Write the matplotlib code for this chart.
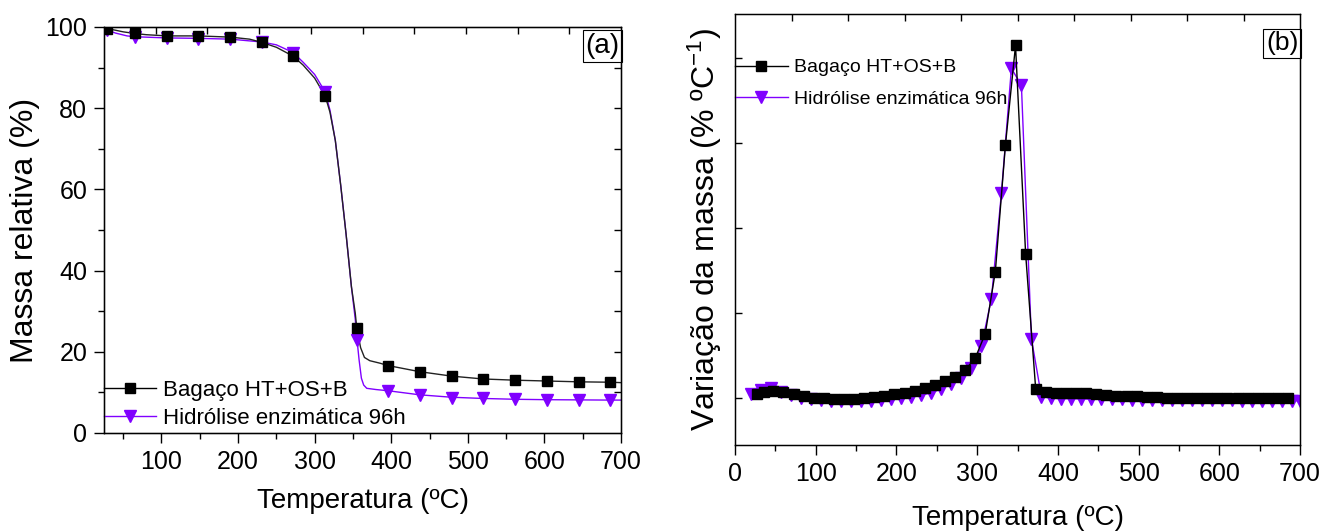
import numpy as np
import matplotlib
matplotlib.use("Agg")
import matplotlib.pyplot as plt
from matplotlib.ticker import MultipleLocator

plt.rcParams['font.family'] = ['Liberation Sans', 'DejaVu Sans']
plt.rcParams['mathtext.fontset'] = 'custom'
plt.rcParams['mathtext.rm'] = 'Liberation Sans'
plt.rcParams['mathtext.default'] = 'regular'

PURPLE = '#8000ff'
labels = ['Bagaço HT+OS+B', 'Hidrólise enzimática 96h']

# (a) TGA - markers
tga_marker_x = [28.5, 65.5, 107, 148, 189.5, 231, 272, 313.7, 354.8, 396, 437.5,
                479, 520, 562, 603, 645, 686]
tga_black_marks = [99.6, 98.4, 97.8, 97.8, 97.5, 96.2, 92.8, 83.0, 25.8, 16.6, 15.1,
                   14.0, 13.3, 13.0, 12.8, 12.6, 12.5]
tga_purple_marks = [99.3, 97.5, 97.2, 97.1, 97.0, 96.2, 93.7, 84.0, 22.9, 10.4, 9.3,
                    8.7, 8.5, 8.3, 8.2, 8.2, 8.1]

# (a) TGA - curves
tga_black_x = [25, 28.5, 40, 50, 65, 80, 107, 148, 190, 215, 231, 250, 272, 285, 300,
               313.7, 320, 327, 334, 341, 348, 353, 355, 360, 365, 372, 385, 396, 437,
               479, 520, 562, 603, 645, 686, 700]
tga_black_y = [100, 99.6, 99.2, 98.8, 98.4, 98.1, 97.8, 97.8, 97.5, 97.0, 96.2, 95.0,
               92.8, 90.6, 87.4, 83.0, 79, 72, 61, 49, 36, 29.5, 25.8, 21, 18.6, 17.8,
               17.2, 16.6, 15.1, 14.0, 13.3, 13.0, 12.8, 12.6, 12.5, 12.4]
tga_purple_x = [25, 28.5, 40, 55, 65, 107, 148, 190, 231, 250, 272, 285, 300, 313.7,
                320, 327, 334, 341, 348, 353, 355, 358, 361, 364, 368, 380, 396, 437,
                479, 520, 562, 603, 645, 686, 700]
tga_purple_y = [99.5, 99.3, 98.5, 97.8, 97.6, 97.3, 97.2, 97.0, 96.3, 95.6, 93.7, 91.3,
                88.3, 84.0, 79.5, 72, 61, 49, 36, 28, 23.5, 18, 13.5, 11.8, 11.0, 10.7,
                10.4, 9.4, 8.8, 8.5, 8.3, 8.2, 8.15, 8.1, 8.1]

# (b) DTG
dtg_black_x = [27, 36, 47.5, 60, 72.5, 85, 97.5, 110, 122.5, 135, 147.5, 160, 172.5,
               185, 197.5, 210, 222.5, 235, 247.5, 260, 272.5, 285, 297.5, 310, 322.5,
               335, 347.5, 360, 372.5, 385, 397.5, 410, 422.5, 435, 447.5, 460, 472.5,
               485, 497.5, 510, 522.5, 535, 547.5, 560, 572.5, 585, 597.5, 610, 622.5,
               635, 647.5, 660, 672.5, 685]
dtg_black_y = [0.044, 0.068, 0.082, 0.068, 0.044, 0.024, 0.008, 0.0, -0.004, -0.004,
               -0.004, 0.0, 0.015, 0.03, 0.045, 0.065, 0.09, 0.12, 0.155, 0.2, 0.255,
               0.33, 0.47, 0.76, 1.49, 2.98, 4.15, 1.70, 0.106, 0.074, 0.067, 0.067,
               0.062, 0.059, 0.047, 0.039, 0.032, 0.027, 0.024, 0.015, 0.012, 0.008,
               0.008, 0.004, 0.004, 0.0, 0.0, 0.0, 0.0, 0.0, 0.0, 0.0, 0.0, 0.0]
dtg_purple_x = [20, 32.4, 44.8, 57.2, 69.6, 82, 94.4, 106.8, 119.2, 131.6, 144, 156.4,
                168.8, 181.2, 193.6, 206, 218.4, 230.8, 243.2, 255.6, 268, 280.4, 292.8,
                305.2, 317.6, 330, 342.4, 354.8, 367.2, 379.6, 392, 404.4, 416.8, 429.2,
                441.6, 454, 466.4, 478.8, 491.2, 503.6, 516, 528.4, 540.8, 553.2, 565.6,
                578, 590.4, 602.8, 615.2, 627.6, 640, 652.4, 664.8, 677.2, 689.6, 700]
dtg_purple_y = [0.045, 0.10, 0.115, 0.075, 0.035, 0.005, -0.015, -0.025, -0.03, -0.03,
                -0.03, -0.03, -0.028, -0.022, -0.012, 0.0, 0.015, 0.035, 0.065, 0.11,
                0.17, 0.235, 0.35, 0.61, 1.17, 2.41, 3.88, 3.68, 0.70, 0.02, 0.0,
                -0.005, -0.005, -0.008, -0.01, -0.012, -0.014, -0.015, -0.016, -0.018,
                -0.019, -0.02, -0.021, -0.022, -0.023, -0.024, -0.025, -0.025, -0.026,
                -0.027, -0.027, -0.028, -0.028, -0.029, -0.03, -0.03]

fig = plt.figure(figsize=(13.27, 5.31), dpi=100)
ax1 = fig.add_axes([0.0784, 0.1846, 0.3896, 0.7646])
ax2 = fig.add_axes([0.5539, 0.162, 0.4258, 0.8117])


def style_axes(ax):
    for s in ax.spines.values():
        s.set_linewidth(1.0)
    ax.tick_params(axis='both', which='both', direction='out', top=False, right=False,
                   labelsize=18, width=1.0)
    ax.tick_params(axis='both', which='major', length=7, pad=5)
    ax.tick_params(axis='both', which='minor', length=4)
    ax.xaxis.set_major_locator(MultipleLocator(100))
    ax.xaxis.set_minor_locator(MultipleLocator(50))
    # Origin-style inner ticks on the top edge, ten equal parts
    top = ax.twiny()
    top.set_xlim(0, 1)
    top.set_xticks(np.linspace(0.1, 0.9, 9))
    top.tick_params(axis='x', direction='in', length=5, labeltop=False, width=1.0)
    return top


# ---- (a)
ax1.plot(tga_purple_x, tga_purple_y, '-', color=PURPLE, lw=1.0)
ax1.plot(tga_black_x, tga_black_y, '-', color='#222222', lw=1.0)
ax1.plot(tga_marker_x, tga_purple_marks, 'v', color=PURPLE, ms=8, mec=PURPLE)
ax1.plot(tga_marker_x, tga_black_marks, 's', color='black', ms=6.5)
ax1.set_xlim(25, 700)
ax1.set_ylim(0, 100)
ax1.yaxis.set_major_locator(MultipleLocator(20))
ax1.yaxis.set_minor_locator(MultipleLocator(10))
style_axes(ax1)
right = ax1.twinx()
right.set_ylim(0, 100)
right.set_yticks(np.arange(10, 100, 10))
right.tick_params(axis='y', direction='in', length=5, labelright=False, width=1.0)
ax1.set_xlabel('Temperatura (ºC)', fontsize=20, labelpad=10)
ax1.set_ylabel('Massa relativa (%)', fontsize=23, labelpad=4)
ax1.text(0.997, 0.985, '(a)', transform=ax1.transAxes, ha='right', va='top', fontsize=20,
         bbox=dict(boxstyle='square,pad=0.1', fc='white', ec='black', lw=0.8))
h1 = [plt.Line2D([], [], color='black', marker='s', ms=6.5, lw=1.0),
      plt.Line2D([], [], color=PURPLE, marker='v', ms=8, lw=1.0)]
ax1.legend(h1, labels, loc='lower left', bbox_to_anchor=(0.0, 0.01), frameon=False,
           fontsize=16, handlelength=2.35, handletextpad=0.3, labelspacing=0.33,
           borderaxespad=0, borderpad=0)

# ---- (b)
ax2.plot(dtg_purple_x, dtg_purple_y, '-v', color=PURPLE, lw=1.0, ms=8, mec=PURPLE)
ax2.plot(dtg_black_x, dtg_black_y, '-s', color='black', lw=1.0, ms=6.5)
ax2.set_xlim(0, 700)
ax2.set_ylim(-0.55, 4.52)
style_axes(ax2)
ax2.set_yticks([0, 1, 2, 3, 4])
ax2.tick_params(axis='y', which='major', direction='in', length=5, labelleft=False)
ax2.tick_params(axis='y', which='minor', left=False)
ax2.set_xlabel('Temperatura (ºC)', fontsize=20, labelpad=14)
ax2.set_ylabel('Variação da massa (% ºC$^{-1}$)', fontsize=23, labelpad=8)
ax2.text(0.997, 0.96, '(b)', transform=ax2.transAxes, ha='right', va='top', fontsize=19,
         bbox=dict(boxstyle='square,pad=0.1', fc='white', ec='black', lw=0.8))
h2 = [plt.Line2D([], [], color='black', marker='s', ms=6.5, lw=1.0),
      plt.Line2D([], [], color=PURPLE, marker='v', ms=8, lw=1.0)]
ax2.legend(h2, labels, loc='upper left', bbox_to_anchor=(0.0, 0.896), frameon=False,
           fontsize=14, handlelength=2.7, handletextpad=0.35, labelspacing=0.71,
           borderaxespad=0, borderpad=0)

fig.savefig('out.png', dpi=100)
